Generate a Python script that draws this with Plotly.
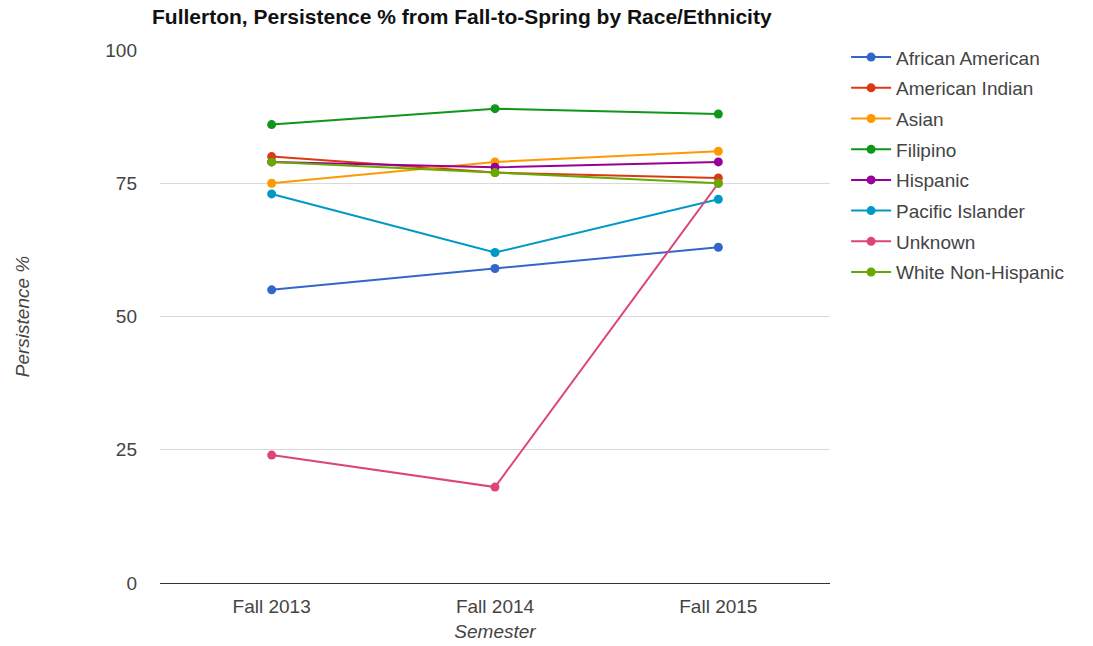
import plotly.graph_objects as go

semesters = ["Fall 2013", "Fall 2014", "Fall 2015"]
groups = ["African American", "American Indian", "Asian", "Filipino",
          "Hispanic", "Pacific Islander", "Unknown", "White Non-Hispanic"]
african_american = [55, 59, 63]
american_indian = [80, 77, 76]
asian = [75, 79, 81]
filipino = [86, 89, 88]
hispanic = [79, 78, 79]
pacific_islander = [73, 62, 72]
unknown = [24, 18, 75]
white_non_hispanic = [79, 77, 75]
series = [african_american, american_indian, asian, filipino,
          hispanic, pacific_islander, unknown, white_non_hispanic]
colors = ["#3366cc", "#dc3912", "#ff9900", "#109618",
          "#990099", "#0099c6", "#dd4477", "#66aa00"]

fig = go.Figure()
for name, vals, c in zip(groups, series, colors):
    fig.add_trace(go.Scatter(
        x=semesters, y=vals, name=name, mode="lines+markers",
        line=dict(color=c, width=2), marker=dict(color=c, size=9),
        legendgroup=name))

fs = 19
fig.update_layout(
    width=1093, height=646,
    margin=dict(l=160, r=263, t=50, b=63),
    paper_bgcolor="white", plot_bgcolor="white",
    font=dict(family="Liberation Sans, Arial, sans-serif", color="#444"),
    title=dict(text="<b>Fullerton, Persistence % from Fall-to-Spring by Race/Ethnicity</b>",
               x=152/1093, xanchor="left", y=1-17/646, yanchor="middle",
               font=dict(size=21, color="#111")),
    legend=dict(x=1.024, xanchor="left", y=1.022, yanchor="top",
                font=dict(size=fs, color="#444"), tracegroupgap=3, itemwidth=40,
                bgcolor="rgba(0,0,0,0)"),
    xaxis=dict(range=[-0.5, 2.5], showgrid=False, showline=False, zeroline=False,
               automargin=False,
               ticks="", tickfont=dict(size=fs, color="#444"), ticklabelstandoff=10,
               title=dict(text="<i>Semester</i>", font=dict(size=fs, color="#444"), standoff=8)),
    yaxis=dict(range=[0, 100], tickvals=[0, 25, 50, 75, 100], automargin=False,
               gridcolor="#d9d9d9", zeroline=True, zerolinecolor="#333", zerolinewidth=1,
               ticks="", tickfont=dict(size=fs, color="#444"), ticklabelstandoff=22,
               title=dict(text="<i>Persistence %</i>", font=dict(size=fs, color="#444"), standoff=70)),
)
fig.write_html("out.html")
